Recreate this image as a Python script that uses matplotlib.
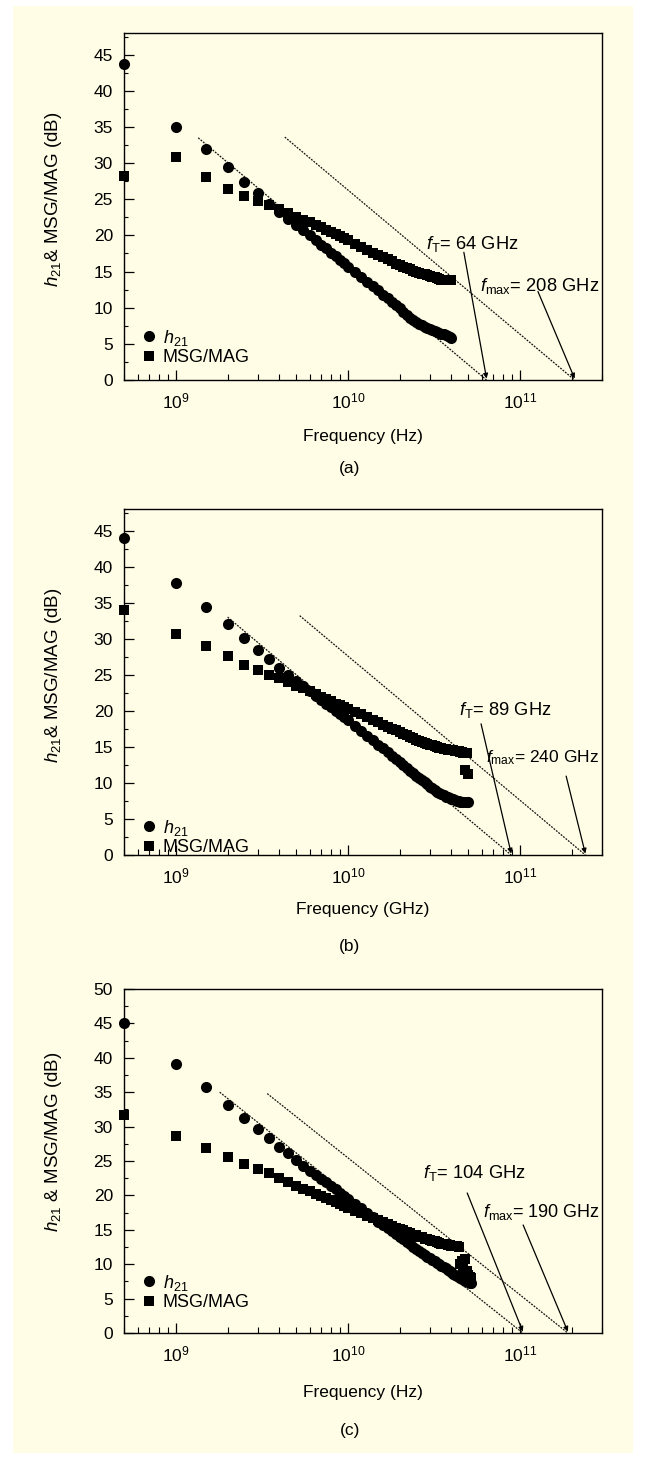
import matplotlib
matplotlib.use("Agg")
import matplotlib.pyplot as plt
from matplotlib.patches import Rectangle
from matplotlib.ticker import MultipleLocator, LogLocator, NullFormatter

plt.rcParams['font.family'] = ['Liberation Sans', 'DejaVu Sans']
plt.rcParams['mathtext.fontset'] = 'custom'
plt.rcParams['mathtext.rm'] = 'Liberation Sans'
plt.rcParams['mathtext.it'] = 'Liberation Sans:italic'
plt.rcParams['mathtext.bf'] = 'Liberation Sans:bold'

BG = '#fffde5'

# frequency sweep (GHz)
freq_ghz = [0.5, 1, 1.5, 2, 2.5, 3, 3.5, 4, 4.5, 5, 5.5, 6, 6.5, 7, 7.5, 8, 8.5, 9, 9.5, 10,
            11, 12, 13, 14, 15, 16, 17, 18, 19, 20, 21, 22, 23, 24, 25, 26, 27, 28, 29, 30,
            31, 32, 33, 34, 35, 36, 37, 38, 39, 40, 41, 42, 43, 44, 45, 46, 47, 48, 49, 50,
            51, 52]

# panel (a): 0.5 - 40 GHz
h21_a = [43.7, 35.0, 32.0, 29.4, 27.4, 25.8, 24.4, 23.3, 22.3, 21.5, 20.7, 20.0, 19.3, 18.7, 18.2,
         17.6, 17.1, 16.6, 16.2, 15.7, 15.0, 14.3, 13.6, 13.0, 12.4, 11.8, 11.3, 10.8, 10.4, 9.9,
         9.4, 9.0, 8.6, 8.3, 8.0, 7.8, 7.6, 7.4, 7.2, 7.0, 6.9, 6.8, 6.6, 6.5, 6.4, 6.3, 6.2, 6.1,
         5.9, 5.8]
msg_a = [28.2, 30.8, 28.1, 26.4, 25.5, 24.8, 24.2, 23.6, 23.1, 22.6, 22.2, 21.8, 21.5, 21.1, 20.8,
         20.5, 20.2, 19.9, 19.6, 19.3, 18.8, 18.4, 18.0, 17.6, 17.3, 17.0, 16.7, 16.4, 16.1, 15.9,
         15.7, 15.5, 15.3, 15.1, 15.0, 14.8, 14.7, 14.6, 14.5, 14.4, 14.3, 14.2, 14.1, 14.0, 13.9,
         13.9, 13.8, 13.8, 13.8, 13.8]

# panel (b): 0.5 - 50 GHz
h21_b = [44.0, 37.8, 34.4, 32.0, 30.1, 28.5, 27.2, 26.0, 25.0, 24.2, 23.4, 22.7, 22.1, 21.5, 21.0,
         20.5, 20.0, 19.5, 19.1, 18.7, 17.9, 17.2, 16.5, 15.9, 15.3, 14.8, 14.3, 13.8, 13.3, 12.9,
         12.5, 12.1, 11.7, 11.4, 11.0, 10.7, 10.4, 10.1, 9.8, 9.5, 9.3, 9.0, 8.8, 8.6, 8.4, 8.3,
         8.1, 8.0, 7.9, 7.8, 7.7, 7.6, 7.5, 7.5, 7.4, 7.4, 7.3, 7.3, 7.3, 7.3]
msg_b = [34.0, 30.6, 29.0, 27.6, 26.4, 25.6, 25.0, 24.5, 24.0, 23.5, 23.1, 22.7, 22.3, 21.9, 21.6,
         21.3, 21.0, 20.8, 20.5, 20.3, 19.9, 19.5, 19.1, 18.7, 18.4, 18.1, 17.8, 17.5, 17.3, 17.0,
         16.8, 16.6, 16.4, 16.2, 16.0, 15.8, 15.7, 15.5, 15.4, 15.3, 15.2, 15.1, 15.0, 14.9, 14.8,
         14.7, 14.7, 14.6, 14.6, 14.5, 14.5, 14.4, 14.4, 14.4, 14.3, 14.3, 14.2, 11.8, 14.2, 11.2]

# panel (c): 0.5 - 52 GHz
h21_c = [45.0, 39.1, 35.7, 33.2, 31.2, 29.7, 28.3, 27.1, 26.1, 25.2, 24.3, 23.6, 23.0, 22.4, 21.9,
         21.3, 20.9, 20.4, 19.9, 19.5, 18.8, 18.1, 17.4, 16.8, 16.2, 15.7, 15.2, 14.8, 14.4, 14.0,
         13.6, 13.2, 12.9, 12.5, 12.2, 11.9, 11.6, 11.4, 11.1, 10.9, 10.6, 10.4, 10.2, 10.0, 9.8,
         9.6, 9.4, 9.2, 9.0, 8.8, 8.6, 8.5, 8.3, 8.2, 8.0, 7.9, 7.8, 7.6, 7.5, 7.4, 7.3, 7.2]
msg_c = [31.7, 28.6, 26.9, 25.6, 24.6, 23.8, 23.2, 22.5, 21.9, 21.4, 21.0, 20.6, 20.2, 19.9, 19.6,
         19.3, 19.0, 18.7, 18.5, 18.2, 17.8, 17.4, 17.0, 16.7, 16.4, 16.1, 15.8, 15.6, 15.3, 15.1,
         14.9, 14.7, 14.5, 14.3, 14.2, 14.0, 13.9, 13.7, 13.6, 13.5, 13.4, 13.3, 13.2, 13.1, 13.0,
         12.9, 12.9, 12.8, 12.8, 12.7, 12.7, 12.6, 12.6, 12.5, 10.0, 10.5, 9.5, 10.8, 9.0, 8.5,
         8.2, 8.0]

# extrapolation lines (start freq Hz, start dB, end freq Hz) and labels
panels = [
    dict(h21=h21_a, msg=msg_a, ymax=48, caption='(a)', xlabel='Frequency (Hz)',
         ylabel=r'$h_{21}$& MSG/MAG (dB)', ylab_y=0.52,
         lines=[(1.35e9, 33.5, 6.4e10), (4.3e9, 33.6, 2.08e11)],
         ft=('64', 6.4e10, (0.632, 0.391), (0.711, 0.368), 13.2),
         fmax=('208', 2.08e11, (0.745, 0.270), (0.866, 0.255), 13.2),
         top=33, bottom=380, xl=436, cap=469, leg=347),
    dict(h21=h21_b, msg=msg_b, ymax=48, caption='(b)', xlabel='Frequency (GHz)',
         ylabel=r'$h_{21}$& MSG/MAG (dB)', ylab_y=0.52,
         lines=[(2.0e9, 33.0, 8.9e10), (5.25e9, 33.2, 2.4e11)],
         ft=('89', 8.9e10, (0.701, 0.419), (0.747, 0.379), 13.2),
         fmax=('240', 2.4e11, (0.757, 0.280), (0.925, 0.228), 12.5),
         top=509, bottom=855, xl=910, cap=947, leg=837),
    dict(h21=h21_c, msg=msg_c, ymax=50, caption='(c)', xlabel='Frequency (Hz)',
         ylabel=r'$h_{21}$ & MSG/MAG (dB)', ylab_y=0.555,
         lines=[(1.8e9, 35.0, 1.04e11), (3.4e9, 34.8, 1.9e11)],
         ft=('104', 1.04e11, (0.626, 0.465), (0.718, 0.407), 13.2),
         fmax=('190', 1.9e11, (0.751, 0.352), (0.835, 0.314), 13.0),
         top=989, bottom=1333, xl=1392, cap=1431, leg=1292),
]

W, H = 646, 1459
fig = plt.figure(figsize=(W / 100, H / 100), dpi=100, facecolor='white')
fig.patches.append(Rectangle((13 / W, 6 / H), 620 / W, 1447 / H, transform=fig.transFigure,
                             facecolor=BG, edgecolor='none', zorder=-10))

left, right = 124, 602
for p in panels:
    hgt = p['bottom'] - p['top']
    ax = fig.add_axes([left / W, 1 - p['bottom'] / H, (right - left) / W, hgt / H])
    ax.set_facecolor('none')
    n = len(p['h21'])
    f = [v * 1e9 for v in freq_ghz[:n]]
    ax.plot(f, p['h21'], 'o', color='black', ms=8, mew=0, label=r'$h_{21}$', zorder=3,
            clip_on=False)
    ax.plot(f, p['msg'], 's', color='black', ms=6.6, mew=0, label='MSG/MAG', zorder=3,
            clip_on=False)

    for f0, y0, f1 in p['lines']:
        ax.plot([f0, f1], [y0, 0], color='#111111', lw=0.9, ls=(0, (1.5, 1)), zorder=2)

    for key, sub in (('ft', 'T'), ('fmax', 'max')):
        val, ftip, tpos, apos, fs = p[key]
        ax.text(tpos[0], tpos[1], r'$f_\mathrm{' + sub + '}$= ' + val + ' GHz',
                transform=ax.transAxes, fontsize=fs, va='center', ha='left')
        ax.annotate('', xy=(ftip, 0.2), xycoords='data', xytext=apos, textcoords='axes fraction',
                    arrowprops=dict(arrowstyle='-|>', lw=0.9, color='black', mutation_scale=7,
                                    shrinkA=0, shrinkB=0))

    ax.set_xscale('log')
    ax.set_xlim(5e8, 3e11)
    ax.set_ylim(0, p['ymax'])
    ax.yaxis.set_major_locator(MultipleLocator(5))
    ax.yaxis.set_minor_locator(MultipleLocator(2.5))
    ax.xaxis.set_major_locator(LogLocator(base=10, numticks=10))
    ax.xaxis.set_minor_locator(LogLocator(base=10, subs=range(2, 10), numticks=20))
    ax.xaxis.set_minor_formatter(NullFormatter())
    ax.tick_params(which='both', direction='in', top=False, right=False, labelsize=12.5)
    ax.tick_params(axis='x', which='major', length=7, width=0.9, pad=8)
    ax.tick_params(axis='x', which='minor', length=4, width=0.8)
    ax.tick_params(axis='y', which='major', length=7, width=0.9, pad=8)
    ax.tick_params(axis='y', which='minor', length=3, width=0.8)
    for s in ax.spines.values():
        s.set_linewidth(1.0)

    ax.set_ylabel(p['ylabel'], fontsize=13.5)
    ax.yaxis.label.set_va('center')
    ax.yaxis.set_label_coords((54 - left) / (right - left), p['ylab_y'])
    ax.set_xlabel(p['xlabel'], fontsize=12.5)
    ax.xaxis.label.set_va('center')
    ax.xaxis.set_label_coords(0.5, -(p['xl'] - p['bottom']) / hgt)

    ax.legend(loc='center left', bbox_to_anchor=((142 - left) / (right - left),
                                                 (p['bottom'] - p['leg']) / hgt),
              frameon=False, fontsize=13, handlelength=0.8, handletextpad=0.35,
              labelspacing=0.1, borderaxespad=0, borderpad=0)

    fig.text(350 / W, 1 - p['cap'] / H, p['caption'], ha='center', va='center', fontsize=12.5)

fig.savefig('out.png', dpi=100, facecolor='white')
